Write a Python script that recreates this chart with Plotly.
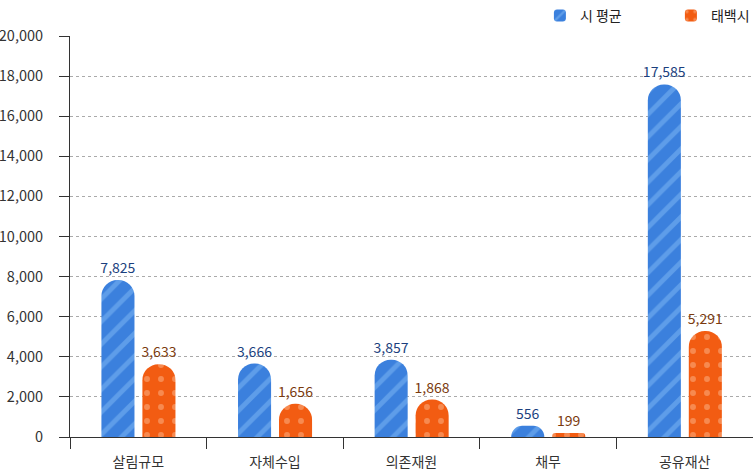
import plotly.graph_objects as go

categories = ["살림규모", "자체수입", "의존재원", "채무", "공유재산"]
city_avg = [7825, 3666, 3857, 556, 17585]
taebaek = [3633, 1656, 1868, 199, 5291]
series_names = ["시 평균", "태백시"]
y_ticks = [0, 2000, 4000, 6000, 8000, 10000, 12000, 14000, 16000, 18000, 20000]

FONT = "Noto Sans CJK KR"

fig = go.Figure()
fig.add_trace(go.Bar(
    name=series_names[0], x=categories, y=city_avg,
    width=0.242, offset=-0.27,
    marker=dict(color="#3b80dd", cornerradius="50%", line=dict(width=0),
                pattern=dict(shape="/", size=16, solidity=0.3,
                             bgcolor="#3b80dd", fgcolor="#5e9de9", fgopacity=1)),
    text=[f"{v:,}" for v in city_avg], textposition="outside", constraintext="none",
    textfont=dict(color="#1b3f7e", size=14, family=FONT),
    cliponaxis=False,
))
fig.add_trace(go.Bar(
    name=series_names[1], x=categories, y=taebaek,
    width=0.242, offset=0.03,
    marker=dict(color="#f25c12", cornerradius="50%", line=dict(width=0),
                pattern=dict(shape=".", size=14, solidity=0.14,
                             bgcolor="#f25c12", fgcolor="#f78a50", fgopacity=1)),
    text=[f"{v:,}" for v in taebaek], textposition="outside", constraintext="none",
    textfont=dict(color="#7a3a0e", size=14, family=FONT),
    cliponaxis=False,
))

fig.update_layout(
    width=753, height=472,
    margin=dict(l=70, r=0, t=36, b=35, autoexpand=False),
    plot_bgcolor="white", paper_bgcolor="white",
    font=dict(family=FONT, color="#333333", size=13),
    barmode="group",
    showlegend=True,
    legend=dict(orientation="h", xref="container", yref="container",
                x=0.717, xanchor="left", y=1, yanchor="top",
                font=dict(size=14, color="#222222"), entrywidth=86,
                bgcolor="rgba(0,0,0,0)"),
    xaxis=dict(showline=True, linecolor="#333333", linewidth=1,
               ticks="outside", tickson="boundaries", ticklen=11, tickcolor="#333333",
               ticklabelstandoff=12,
               tickfont=dict(size=14, color="#333333"), showgrid=False),
    yaxis=dict(range=[0, 20000], tickvals=y_ticks, tickformat=",",
               showline=True, linecolor="#333333", linewidth=1,
               ticks="outside", ticklen=10, tickcolor="#333333",
               ticklabelstandoff=13,
               showgrid=True, gridcolor="#aaaaaa", griddash="dot", gridwidth=1,
               zeroline=False, tickfont=dict(size=14.5, color="#333333")),
)

fig.write_html("out.html")
